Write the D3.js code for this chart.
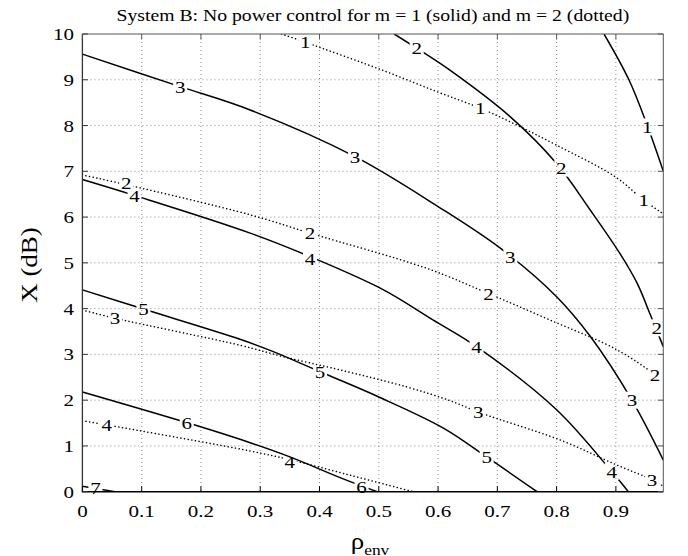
<!DOCTYPE html>
<html>
<head>
<meta charset="utf-8">
<script src="https://cdn.jsdelivr.net/npm/d3@7/dist/d3.min.js"></script>
<style>
  html, body { margin: 0; padding: 0; background: #fff; }
  svg { display: block; }
  text { font-family: "Liberation Serif", "Times New Roman", serif; fill: #000; }
</style>
</head>
<body>
<svg id="chart" width="688" height="556"></svg>
<script>
// ---------- data ----------
const titleText = "System B: No power control for m = 1 (solid) and m = 2 (dotted)";
const xTicks = [0, 0.1, 0.2, 0.3, 0.4, 0.5, 0.6, 0.7, 0.8, 0.9];
const xTickLabels = ["0", "0.1", "0.2", "0.3", "0.4", "0.5", "0.6", "0.7", "0.8", "0.9"];
const yTicks = [0, 1, 2, 3, 4, 5, 6, 7, 8, 9, 10];
const yTickLabels = ["0", "1", "2", "3", "4", "5", "6", "7", "8", "9", "10"];

// m = 1 (solid) contour levels
const solidLevels = [1, 2, 3, 4, 5, 6, 7];
const solidCurves = [
  [[0.88, 10], [0.922, 9], [0.953, 8], [0.98, 7.0]],
  [[0.526, 10], [0.564, 9.69], [0.62, 9.21], [0.722, 8.19], [0.8, 7.17], [0.857, 6.15], [0.907, 5.2], [0.936, 4.55], [0.958, 3.87], [0.98, 3.17]],
  [[0, 9.56], [0.165, 8.85], [0.283, 8.34], [0.46, 7.32], [0.6, 6.23], [0.705, 5.32], [0.8, 4.26], [0.857, 3.39], [0.927, 2.0], [0.98, 0.69]],
  [[0, 6.82], [0.086, 6.48], [0.283, 5.65], [0.398, 5.06], [0.508, 4.41], [0.592, 3.75], [0.665, 3.17], [0.8, 1.79], [0.893, 0.44], [0.921, 0]],
  [[0, 4.41], [0.103, 3.99], [0.266, 3.33], [0.322, 3.06], [0.401, 2.62], [0.5, 2.07], [0.609, 1.39], [0.682, 0.76], [0.767, 0]],
  [[0, 2.18], [0.176, 1.51], [0.283, 1.07], [0.35, 0.76], [0.44, 0.28], [0.497, 0]],
  [[0, 0.12], [0.055, 0]]
];
const solidLabels = [
  [[0.953, 7.97]],
  [[0.564, 9.69], [0.808, 7.07], [0.969, 3.58]],
  [[0.165, 8.85], [0.46, 7.32], [0.722, 5.12], [0.927, 2.0]],
  [[0.088, 6.45], [0.384, 5.08], [0.665, 3.17], [0.893, 0.44]],
  [[0.103, 3.99], [0.401, 2.62], [0.682, 0.76]],
  [[0.176, 1.51], [0.471, 0.11]],
  [[0.022, 0.07]]
];

// m = 2 (dotted) contour levels
const dottedLevels = [1, 2, 3, 4];
const dottedCurves = [
  [[0.336, 10], [0.376, 9.82], [0.508, 9.2], [0.598, 8.74], [0.671, 8.38], [0.733, 8.01], [0.8, 7.57], [0.899, 6.88], [0.947, 6.37], [0.98, 6.07]],
  [[0, 6.92], [0.077, 6.70], [0.283, 6.05], [0.384, 5.65], [0.581, 4.88], [0.685, 4.33], [0.789, 3.75], [0.902, 3.1], [0.966, 2.55], [0.98, 2.37]],
  [[0, 3.97], [0.055, 3.79], [0.266, 3.2], [0.339, 2.95], [0.435, 2.66], [0.547, 2.29], [0.62, 1.99], [0.67, 1.73], [0.806, 1.13], [0.902, 0.58], [0.961, 0.26], [0.98, 0.12]],
  [[0, 1.55], [0.041, 1.46], [0.283, 0.89], [0.35, 0.7], [0.452, 0.36], [0.558, 0]]
];
const dottedLabels = [
  [[0.376, 9.82], [0.671, 8.38], [0.947, 6.37]],
  [[0.074, 6.74], [0.384, 5.65], [0.685, 4.33], [0.966, 2.55]],
  [[0.055, 3.79], [0.668, 1.75], [0.961, 0.26]],
  [[0.041, 1.46], [0.35, 0.64]]
];

// ---------- layout ----------
const W = 688, H = 556;
const pL = 82.4, pR = 663.3, pT = 34, pB = 491.7;
const SX = 1.2; // horizontal glyph stretch of the reference

const x = d3.scaleLinear().domain([0, 0.98]).range([pL, pR]);
const y = d3.scaleLinear().domain([0, 10]).range([pB, pT]);

const svg = d3.select("#chart");
const defs = svg.append("defs");

function stretchedText(parent, px, py, str, size, anchor, sx) {
  return parent.append("text")
    .attr("transform", `translate(${px},${py}) scale(${sx || SX},1)`)
    .attr("text-anchor", anchor || "middle")
    .style("font-size", size + "px")
    .text(str);
}

defs.append("clipPath").attr("id", "plotClip")
  .append("rect").attr("x", pL).attr("y", pT)
  .attr("width", pR - pL).attr("height", pB - pT);

// ---------- grid ----------
const grid = svg.append("g");
grid.selectAll(".gx").data(xTicks.filter(d => d > 0)).enter().append("line")
  .attr("x1", d => x(d)).attr("x2", d => x(d))
  .attr("y1", pT).attr("y2", pB)
  .attr("stroke", "#808080").attr("stroke-width", 0.9).attr("stroke-dasharray", "1,3");
grid.selectAll(".gy").data(yTicks.filter(d => d > 0 && d < 10)).enter().append("line")
  .attr("x1", pL).attr("x2", pR)
  .attr("y1", d => y(d)).attr("y2", d => y(d))
  .attr("stroke", "#808080").attr("stroke-width", 0.9).attr("stroke-dasharray", "1,3");

// ---------- contour lines ----------
const line = d3.line().x(d => x(d[0])).y(d => y(d[1])).curve(d3.curveCatmullRom.alpha(0.5));
const curvesG = svg.append("g").attr("clip-path", "url(#plotClip)");

function drawSet(curves, labels, levels, prefix, dashed) {
  curves.forEach((pts, i) => {
    const mid = `${prefix}-${i}`;
    const mask = defs.append("mask").attr("id", mid)
      .attr("maskUnits", "userSpaceOnUse")
      .attr("x", 0).attr("y", 0).attr("width", W).attr("height", H);
    mask.append("rect").attr("x", 0).attr("y", 0).attr("width", W).attr("height", H).attr("fill", "#fff");
    labels[i].forEach(l => {
      mask.append("rect")
        .attr("x", x(l[0]) - 7).attr("y", y(l[1]) - 8.5)
        .attr("width", 14).attr("height", 17).attr("fill", "#000");
    });
    const g = curvesG.append("g").attr("mask", `url(#${mid})`);
    g.append("path").attr("d", line(pts))
      .attr("fill", "none").attr("stroke", "#000")
      .attr("stroke-width", dashed ? 1.5 : 1.5)
      .attr("stroke-linecap", dashed ? "round" : "butt")
      .attr("stroke-dasharray", dashed ? "0.1,3.6" : null);
  });
  labels.forEach((ls, i) => {
    ls.forEach(l => {
      stretchedText(svg, x(l[0]), y(l[1]) + 6, String(levels[i]), 17.5, "middle");
    });
  });
}
drawSet(solidCurves, solidLabels, solidLevels, "ms", false);
drawSet(dottedCurves, dottedLabels, dottedLevels, "md", true);

// ---------- frame & ticks ----------
const frame = svg.append("g");
frame.append("line").attr("x1", pL).attr("x2", pR).attr("y1", pT).attr("y2", pT)
  .attr("stroke", "#555").attr("stroke-width", 1);
frame.append("line").attr("x1", pR).attr("x2", pR).attr("y1", pT).attr("y2", pB)
  .attr("stroke", "#555").attr("stroke-width", 1);
frame.append("line").attr("x1", pL).attr("x2", pL).attr("y1", pT).attr("y2", pB)
  .attr("stroke", "#333").attr("stroke-width", 1.3);
frame.append("line").attr("x1", pL - 0.6).attr("x2", pR).attr("y1", pB).attr("y2", pB)
  .attr("stroke", "#000").attr("stroke-width", 1.6);

const tl = 5.5;
xTicks.forEach(t => {
  frame.append("line").attr("x1", x(t)).attr("x2", x(t)).attr("y1", pB).attr("y2", pB - tl)
    .attr("stroke", "#000").attr("stroke-width", 1);
  frame.append("line").attr("x1", x(t)).attr("x2", x(t)).attr("y1", pT).attr("y2", pT + tl)
    .attr("stroke", "#555").attr("stroke-width", 1);
});
yTicks.forEach(t => {
  frame.append("line").attr("x1", pL).attr("x2", pL + tl).attr("y1", y(t)).attr("y2", y(t))
    .attr("stroke", "#333").attr("stroke-width", 1);
  frame.append("line").attr("x1", pR).attr("x2", pR - tl).attr("y1", y(t)).attr("y2", y(t))
    .attr("stroke", "#555").attr("stroke-width", 1);
});

// tick labels
xTicks.forEach((t, i) => stretchedText(svg, x(t), 516.5, xTickLabels[i], 17.5, "middle"));
yTicks.forEach((t, i) => stretchedText(svg, 74, y(t) + 6, yTickLabels[i], 17.5, "end"));

// ---------- title & axis labels ----------
stretchedText(svg, (pL + pR) / 2, 21, titleText, 17, "middle", 1.16);

svg.append("text")
  .attr("transform", `translate(37,265) rotate(-90) scale(${SX},1)`)
  .attr("text-anchor", "middle")
  .style("font-size", "22.5px")
  .text("X (dB)");

const xl = svg.append("text")
  .attr("transform", `translate(370,549) scale(${SX},1)`)
  .attr("text-anchor", "middle")
  .style("font-size", "22.5px");
xl.append("tspan").text("ρ");
xl.append("tspan").attr("dy", 5.5).style("font-size", "14.5px").text("env");
</script>
</body>
</html>
